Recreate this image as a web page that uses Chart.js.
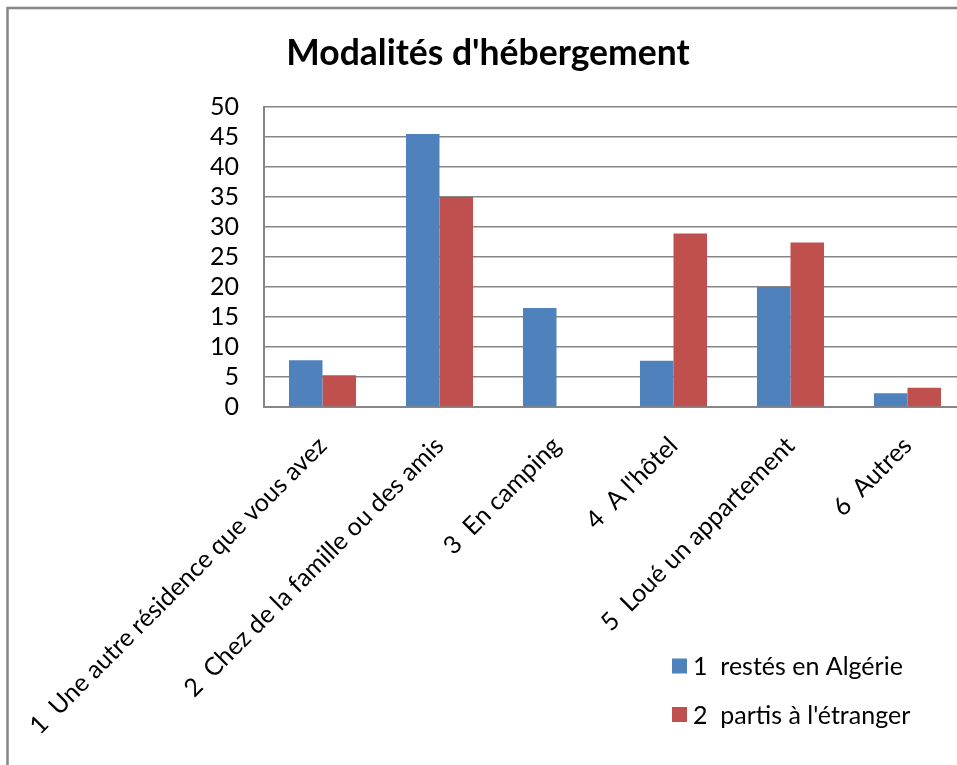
<!DOCTYPE html>
<html>
<head>
<meta charset="utf-8">
<script src="https://cdn.jsdelivr.net/npm/chart.js@4"></script>
<style>
  html, body { margin: 0; padding: 0; background: #fff; overflow: hidden; }
  #wrap { position: absolute; left: 0; top: 0; width: 980px; height: 765px; }
</style>
</head>
<body>
<div id="wrap"><canvas id="c" width="980" height="765"></canvas></div>
<script>
const title = "Modalités d'hébergement";
const categories = [
  "1  Une autre résidence que vous avez",
  "2  Chez de la famille ou des amis",
  "3  En camping",
  "4  A l'hôtel",
  "5  Loué un appartement",
  "6  Autres"
];
const seriesNames = ["1  restés en Algérie", "2  partis à l'étranger"];
const restesEnAlgerie = [7.8, 45.5, 16.5, 7.7, 20.0, 2.3];
const partisEtranger = [5.3, 35.0, 0, 28.9, 27.4, 3.2];
const yTicks = [0, 5, 10, 15, 20, 25, 30, 35, 40, 45, 50];

const FONT = "Lato, 'Open Sans', sans-serif";
const GRID = '#868686';

const borderPlugin = {
  id: 'outerBorder',
  beforeDraw(chart) {
    const ctx = chart.ctx;
    ctx.save();
    ctx.fillStyle = '#fff';
    ctx.fillRect(0, 0, chart.width, chart.height);
    ctx.strokeStyle = GRID;
    ctx.lineWidth = 2.5;
    ctx.strokeRect(7.5, 8, 2000, 2000);
    ctx.restore();
  }
};

const legendPlugin = {
  id: 'customLegend',
  afterDraw(chart) {
    const ctx = chart.ctx;
    ctx.save();
    ctx.font = '25px ' + FONT;
    ctx.textBaseline = 'middle';
    ctx.textAlign = 'left';
    const x = 672, ys = [666, 714.5], s = 15;
    chart.data.datasets.forEach((ds, i) => {
      ctx.fillStyle = ds.backgroundColor;
      ctx.fillRect(x, ys[i] - s / 2, s, s);
      ctx.fillStyle = '#000';
      ctx.fillText(ds.label, x + s + 6, ys[i] + 1);
    });
    ctx.restore();
  }
};

new Chart(document.getElementById('c'), {
  type: 'bar',
  data: {
    labels: categories,
    datasets: [
      { label: seriesNames[0], data: restesEnAlgerie, backgroundColor: '#4F81BD' },
      { label: seriesNames[1], data: partisEtranger, backgroundColor: '#C0504D' }
    ]
  },
  options: {
    responsive: false,
    animation: false,
    layout: { padding: { left: 10, right: 14, top: 0, bottom: 0 } },
    datasets: { bar: { categoryPercentage: 0.573, barPercentage: 1.0 } },
    plugins: {
      legend: { display: false },
      tooltip: { enabled: false },
      title: {
        display: true,
        text: title,
        color: '#000',
        font: { family: FONT, size: 35.5, weight: 'bold', lineHeight: 1.2 },
        padding: { top: 32, bottom: 32.4 }
      }
    },
    scales: {
      x: {
        grid: { display: false, drawTicks: false },
        border: { display: true, color: GRID, width: 2 },
        ticks: {
          autoSkip: false,
          minRotation: 45,
          maxRotation: 45,
          padding: 24,
          color: '#000',
          font: { family: FONT, size: 25 }
        },
        afterFit(scale) {
          scale.height = 358;
          scale.paddingLeft = 0;
          scale.paddingRight = 0;
        }
      },
      y: {
        min: 0,
        max: 50,
        afterBuildTicks(scale) { scale.ticks = yTicks.map(v => ({ value: v })); },
        grid: { color: GRID, lineWidth: 1.5, drawTicks: false },
        border: { display: true, color: GRID, width: 2 },
        ticks: {
          autoSkip: false,
          padding: 25,
          color: '#000',
          font: { family: FONT, size: 25 }
        },
        afterFit(scale) {
          scale.width = 254;
          scale.paddingTop = 0;
          scale.paddingBottom = 0;
        }
      }
    }
  },
  plugins: [borderPlugin, legendPlugin]
});
</script>
</body>
</html>
